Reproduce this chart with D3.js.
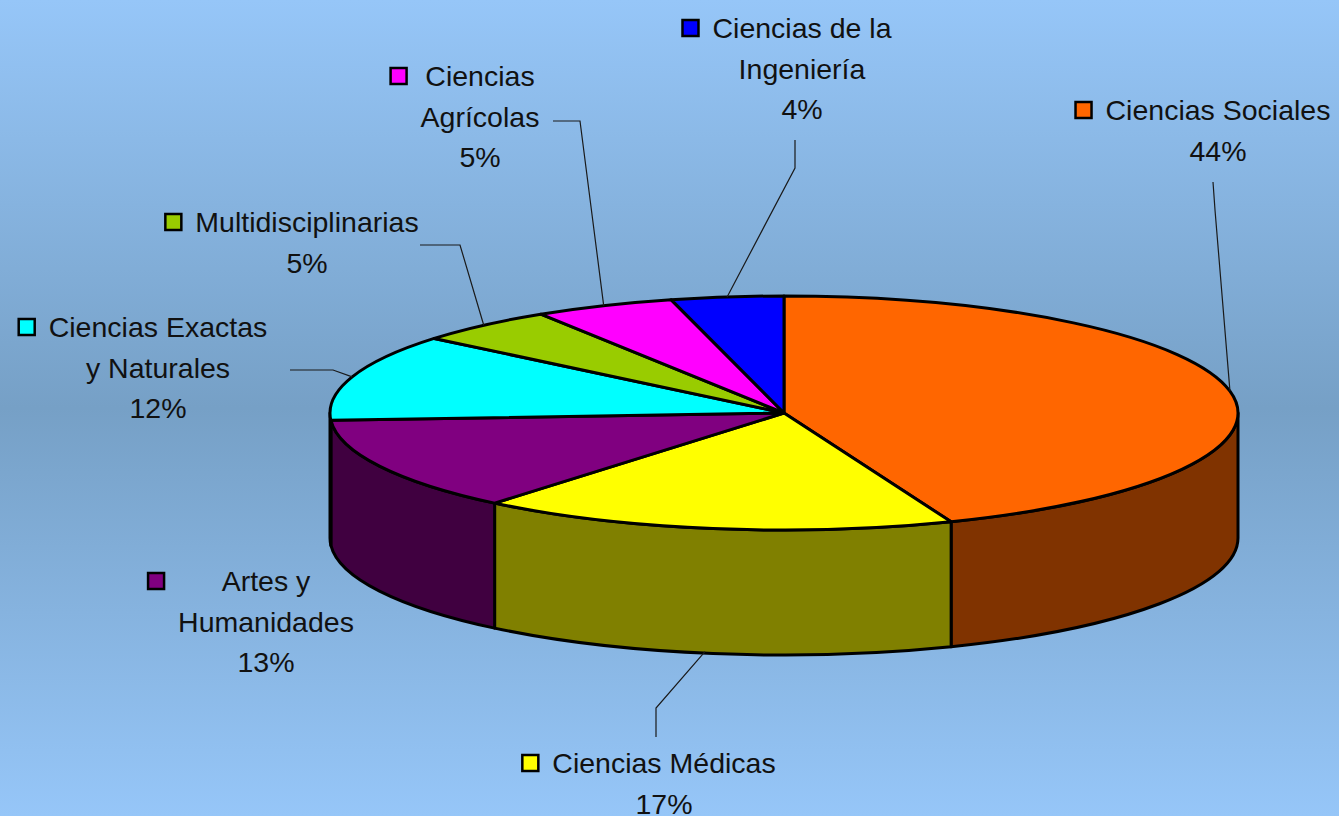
<!DOCTYPE html>
<html>
<head>
<meta charset="utf-8">
<script src="https://cdn.jsdelivr.net/npm/d3@7"></script>
<style>
    html, body { margin: 0; padding: 0; }
    svg { display: block; }
    .lbl { font-family: "Liberation Sans", Arial, sans-serif; font-size: 28.5px; fill: #111; }
</style>
</head>
<body>
<svg id="chart" width="1339" height="816"></svg>
<script>
(function () {
    "use strict";

    // Data (clockwise from 12 o'clock)
    const categories = [
        "Ciencias Sociales",
        "Ciencias Médicas",
        "Artes y Humanidades",
        "Ciencias Exactas y Naturales",
        "Multidisciplinarias",
        "Ciencias Agrícolas",
        "Ciencias de la Ingeniería"
    ];
    const percents = [44, 17, 13, 12, 5, 5, 4];
    const labelLines = [
        ["Ciencias Sociales"],
        ["Ciencias Médicas"],
        ["Artes y", "Humanidades"],
        ["Ciencias Exactas", "y Naturales"],
        ["Multidisciplinarias"],
        ["Ciencias", "Agrícolas"],
        ["Ciencias de la", "Ingeniería"]
    ];
    const topColors  = ["#ff6600", "#ffff00", "#800080", "#00ffff", "#99cc00", "#ff00ff", "#0000ff"];
    const sideColors = ["#803300", "#808000", "#400040", "#008080", "#4d6600", "#800080", "#000080"];

    // Layout of labels: text center x, first baseline y, leader elbow points (label side first)
    const labelLayout = [
        { x: 1218, y: 120, leader: [[1213, 182], [1215, 210]] },
        { x: 664,  y: 773, leader: [[656, 737], [656, 708]] },
        { x: 266,  y: 591, leader: null },
        { x: 158,  y: 337, leader: [[290, 370], [333, 370]] },
        { x: 307,  y: 232, leader: [[420, 245], [460, 245]] },
        { x: 480,  y: 86,  leader: [[553, 121], [580, 121]] },
        { x: 802,  y: 38,  leader: [[795, 140], [795, 168]] }
    ];

    const W = 1339, H = 816;
    const cx = 784, cy = 413, rx = 454, ry = 117, depth = 125;
    const lineH = 40.5;

    const svg = d3.select("#chart");

    // background gradient
    const defs = svg.append("defs");
    const grad = defs.append("linearGradient")
        .attr("id", "bg").attr("x1", 0).attr("y1", 0).attr("x2", 0).attr("y2", 1);
    grad.append("stop").attr("offset", "0%").attr("stop-color", "#96c6f8");
    grad.append("stop").attr("offset", "50%").attr("stop-color", "#76a0c6");
    grad.append("stop").attr("offset", "100%").attr("stop-color", "#96c6f8");
    svg.append("rect").attr("width", W).attr("height", H).attr("fill", "url(#bg)");

    const data = categories.map((c, i) => ({
        name: c, value: percents[i], lines: labelLines[i],
        top: topColors[i], side: sideColors[i], layout: labelLayout[i]
    }));

    const pie = d3.pie().value((d) => d.value).sort(null).startAngle(0).endAngle(2 * Math.PI);
    const arcs = pie(data);

    const px = (a) => cx + rx * Math.sin(a);
    const py = (a, dz) => cy - ry * Math.cos(a) + (dz || 0);

    // side walls (front half only: angles PI/2 .. 3PI/2)
    const sideG = svg.append("g");
    arcs.forEach((d) => {
        const a0 = Math.max(d.startAngle, Math.PI / 2);
        const a1 = Math.min(d.endAngle, 3 * Math.PI / 2);
        if (a1 <= a0) return;
        const large = a1 - a0 > Math.PI ? 1 : 0;
        const p = "M" + px(a0) + "," + py(a0) +
            " A" + rx + "," + ry + " 0 " + large + " 1 " + px(a1) + "," + py(a1) +
            " L" + px(a1) + "," + py(a1, depth) +
            " A" + rx + "," + ry + " 0 " + large + " 0 " + px(a0) + "," + py(a0, depth) + " Z";
        sideG.append("path")
            .attr("d", p)
            .attr("fill", d.data.side)
            .attr("stroke", "#000")
            .attr("stroke-width", 3)
            .attr("stroke-linejoin", "round");
    });

    // top face: circular arcs squashed into the ellipse
    const arc = d3.arc().innerRadius(0).outerRadius(rx);
    svg.append("g")
        .attr("transform", `translate(${cx},${cy}) scale(1,${ry / rx})`)
        .selectAll("path")
        .data(arcs)
        .enter()
        .append("path")
        .attr("d", arc)
        .attr("fill", (d) => d.data.top)
        .attr("stroke", "#000")
        .attr("stroke-width", 3)
        .attr("stroke-linejoin", "round")
        .attr("vector-effect", "non-scaling-stroke");

    // leader lines
    const leaderG = svg.append("g");
    arcs.forEach((d) => {
        const lay = d.data.layout;
        if (!lay.leader) return;
        const mid = (d.startAngle + d.endAngle) / 2;
        const front = Math.abs(mid - Math.PI) < 0.5;
        const end = [px(mid) - (front ? 8 : 0), py(mid, front ? depth : 0) - (front ? 2 : 0)];
        const pts = lay.leader.concat([end]);
        leaderG.append("path")
            .attr("d", d3.line()(pts))
            .attr("fill", "none")
            .attr("stroke", "#1a1a1a")
            .attr("stroke-width", 1.2);
    });

    // labels
    const labelG = svg.append("g");
    arcs.forEach((d) => {
        const lay = d.data.layout;
        const g = labelG.append("g");
        let maxW = 0;
        d.data.lines.concat([d.data.value + "%"]).forEach((t, i) => {
            const txt = g.append("text")
                .attr("class", "lbl")
                .attr("x", lay.x)
                .attr("y", lay.y + i * lineH)
                .attr("text-anchor", "middle")
                .text(t);
            if (i < d.data.lines.length) maxW = Math.max(maxW, txt.node().getComputedTextLength());
        });
        g.append("rect")
            .attr("x", lay.x - maxW / 2 - 30)
            .attr("y", lay.y - 18)
            .attr("width", 16)
            .attr("height", 16)
            .attr("fill", d.data.top)
            .attr("stroke", "#000")
            .attr("stroke-width", 2.5);
    });
})();
</script>
</body>
</html>
